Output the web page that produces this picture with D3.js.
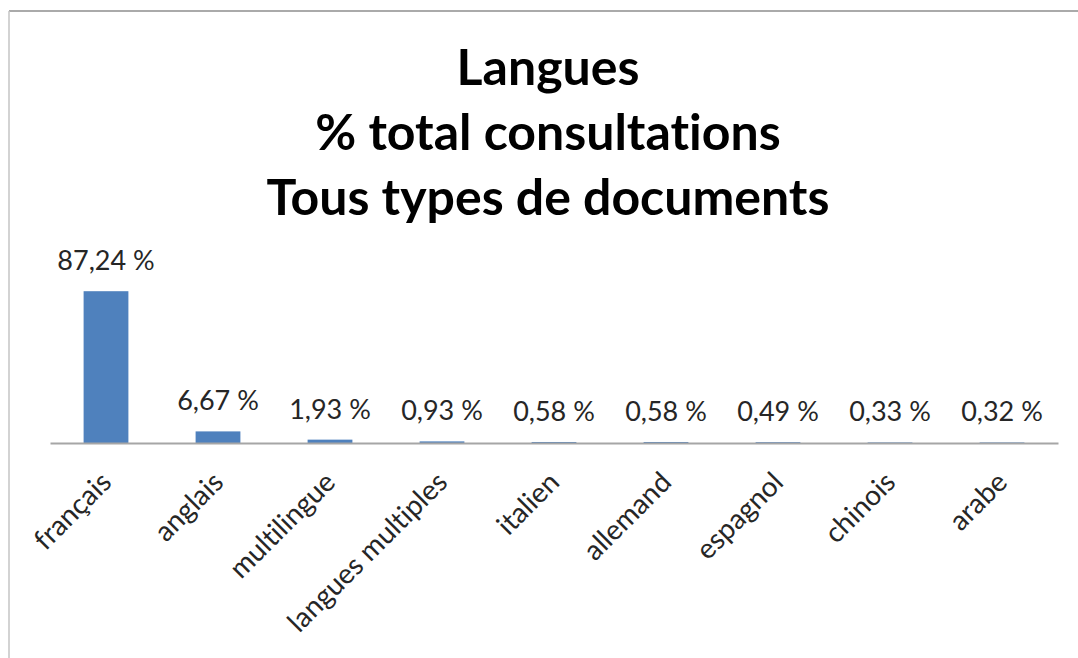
<!DOCTYPE html>
<html>
<head>
  <meta charset="utf-8">
  <script src="https://d3js.org/d3.v7.min.js"></script>
  <style>
    body { margin: 0; background: #fff; font-family: 'Lato', sans-serif; }
    svg { display: block; }
    text { font-variant-ligatures: none; }
  </style>
</head>
<body>
<svg width="1078" height="658"></svg>
<script>
var langues = ["français", "anglais", "multilingue", "langues multiples", "italien", "allemand", "espagnol", "chinois", "arabe"];
var pourcentages = [87.24, 6.67, 1.93, 0.93, 0.58, 0.58, 0.49, 0.33, 0.32];
var titre = ["Langues", "% total consultations", "Tous types de documents"];

var svg = d3.select("svg");

// cadre (haut et gauche seulement visibles)
svg.append("line").attr("x1", 9).attr("y1", 11).attr("x2", 1078).attr("y2", 11)
  .attr("stroke", "#8e8e8e").attr("stroke-width", 1.5);
svg.append("line").attr("x1", 9).attr("y1", 11).attr("x2", 9).attr("y2", 658)
  .attr("stroke", "#c4c4c4").attr("stroke-width", 1.5);

var x = d3.scaleBand()
  .domain(langues)
  .range([50, 1058])
  .paddingInner(0.6)
  .paddingOuter(0.3);

var y = d3.scaleLinear()
  .domain([0, 100])
  .range([443, 269]);

// titre
svg.append("g").selectAll("text")
  .data(titre)
  .enter().append("text")
  .attr("x", 548)
  .attr("y", function (d, i) { return 85 + i * 65; })
  .attr("text-anchor", "middle")
  .attr("font-size", "50px")
  .attr("font-weight", "bold")
  .attr("fill", "#000")
  .text(function (d) { return d; });

// barres
svg.append("g").selectAll("rect")
  .data(pourcentages)
  .enter().append("rect")
  .attr("x", function (d, i) { return x(langues[i]); })
  .attr("y", function (d) { return y(d); })
  .attr("width", x.bandwidth())
  .attr("height", function (d) { return y(0) - y(d); })
  .attr("fill", "#4f81bd");

// étiquettes de valeurs
svg.append("g").selectAll("text")
  .data(pourcentages)
  .enter().append("text")
  .attr("x", function (d, i) { return x(langues[i]) + x.bandwidth() / 2; })
  .attr("y", function (d) { return y(d) - 21; })
  .attr("text-anchor", "middle")
  .attr("font-size", "27px")
  .attr("fill", "#262626")
  .text(function (d) { return d.toFixed(2).replace(".", ",") + " %"; });

// axe
var axe = svg.append("g")
  .attr("transform", "translate(0," + y(0) + ")")
  .call(d3.axisBottom(x).tickSize(0).tickSizeOuter(0));

axe.select(".domain").attr("stroke", "#a6a6a6").attr("stroke-width", 2);
axe.selectAll(".tick text")
  .attr("x", 0).attr("y", 0).attr("dy", 0)
  .attr("transform", "translate(7,41) rotate(-45)")
  .attr("text-anchor", "end")
  .attr("font-family", "Lato, sans-serif")
  .attr("font-size", "28px")
  .attr("fill", "#262626");
</script>
</body>
</html>
